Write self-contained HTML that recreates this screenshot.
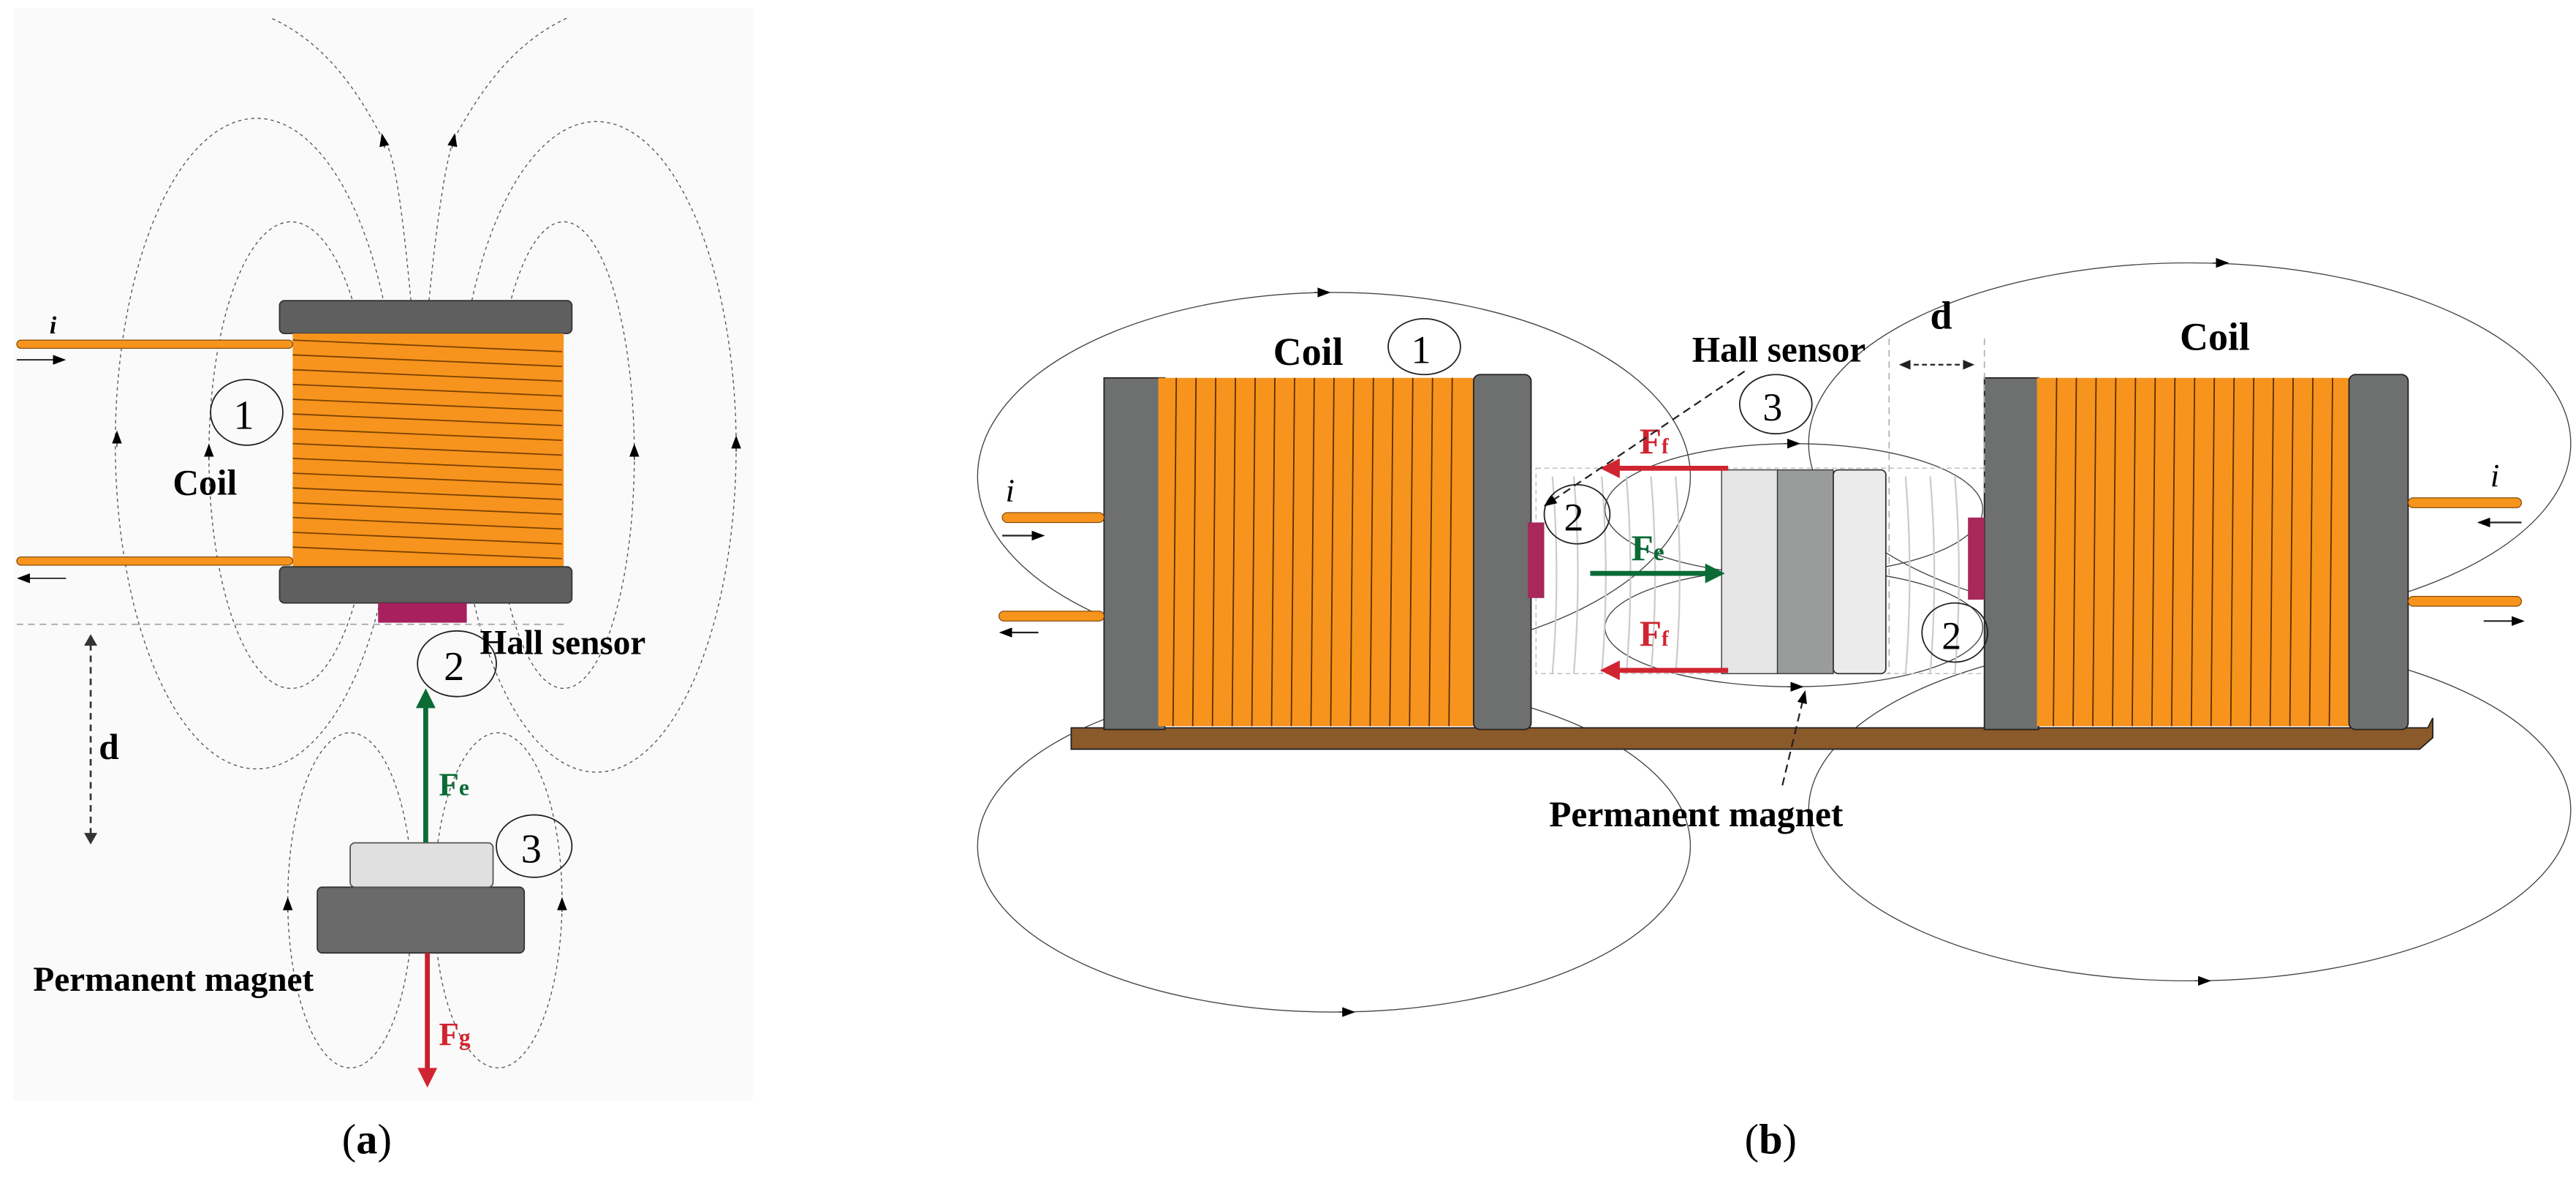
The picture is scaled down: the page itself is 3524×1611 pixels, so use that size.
<!DOCTYPE html>
<html><head><meta charset="utf-8"><style>
html,body{margin:0;padding:0;background:#fff;}
svg{display:block;}
text{font-family:"Liberation Serif",serif;}
</style></head><body>
<svg width="3524" height="1611" viewBox="0 0 1568 717" xmlns="http://www.w3.org/2000/svg">
<defs>
<marker id="ah" markerWidth="8" markerHeight="8" refX="4" refY="4" orient="auto" markerUnits="userSpaceOnUse"><path d="M0,1 L8,4 L0,7 z" fill="#000"/></marker>
<marker id="ag" markerWidth="4" markerHeight="4" refX="2" refY="2" orient="auto"><path d="M0,0 L4,2 L0,4 z" fill="#0a6b35"/></marker>
<marker id="ar" markerWidth="4" markerHeight="4" refX="2" refY="2" orient="auto"><path d="M0,0 L4,2 L0,4 z" fill="#d02530"/></marker>
</defs>
<rect x="0" y="0" width="1568" height="717" fill="#fff"/>
<rect x="8" y="5" width="450" height="665" fill="#fafafa"/>

<!-- ===== Panel (a) field lines ===== -->
<g fill="none" stroke="#555" stroke-width="0.6" stroke-dasharray="2,2">
<ellipse cx="177" cy="277" rx="50" ry="142"/>
<ellipse cx="156" cy="270" rx="86" ry="198"/>
<ellipse cx="343" cy="277" rx="43" ry="142"/>
<ellipse cx="363" cy="272" rx="85" ry="198"/>
<path d="M250,183 C245,130 240,90 233,85 C215,50 195,25 165,11"/>
<path d="M261,183 C266,130 272,95 276,85 C295,50 315,25 345,11"/>
<ellipse cx="213" cy="548" rx="38" ry="102"/>
<ellipse cx="303" cy="548" rx="39" ry="102"/>
</g>
<g stroke="#333" stroke-width="0.6">
<path d="M71,272 l0,-6" marker-end="url(#ah)"/>
<path d="M127,280 l0,-6" marker-end="url(#ah)"/>
<path d="M386,280 l0,-6" marker-end="url(#ah)"/>
<path d="M448,275 l0,-6" marker-end="url(#ah)"/>
<path d="M234,90 l-1,-5" marker-end="url(#ah)"/>
<path d="M275,90 l1,-5" marker-end="url(#ah)"/>
<path d="M175,555 l0,-5" marker-end="url(#ah)"/>
<path d="M342,555 l0,-5" marker-end="url(#ah)"/>
</g>
<!-- coil (a) -->
<rect x="170" y="183" width="178" height="20" rx="3" fill="#5f5f5f" stroke="#333" stroke-width="0.8"/>
<rect x="178" y="203" width="165" height="142" fill="#f7941d"/>
<g stroke="#7a4200" stroke-width="0.8" fill="none">
<path d="M178,207 L342,214 M178,216 L342,223 M178,225 L342,232 M178,234 L342,241 M178,243 L342,250 M178,252 L342,259 M178,261 L342,268 M178,270 L342,277 M178,279 L342,286 M178,288 L342,295 M178,297 L342,304 M178,306 L342,313 M178,315 L342,322 M178,324 L342,331 M178,333 L342,340"/>
</g>
<rect x="170" y="345" width="178" height="22" rx="3" fill="#5f5f5f" stroke="#333" stroke-width="0.8"/>
<rect x="230" y="367" width="54" height="12" fill="#a8205e"/>
<!-- wires -->
<rect x="10" y="207" width="168" height="5" rx="2.5" fill="#f7941d" stroke="#7a4200" stroke-width="0.5"/>
<rect x="10" y="339" width="168" height="5" rx="2.5" fill="#f7941d" stroke="#7a4200" stroke-width="0.5"/>
<text x="30" y="203" font-size="15" font-style="italic" font-weight="bold">i</text>
<line x1="10" y1="219" x2="36" y2="219" stroke="#222" stroke-width="0.8" marker-end="url(#ah)"/>
<line x1="40" y1="352" x2="14" y2="352" stroke="#222" stroke-width="0.8" marker-end="url(#ah)"/>
<ellipse cx="150" cy="251" rx="22" ry="20" fill="none" stroke="#222" stroke-width="0.8"/>
<text x="142" y="261" font-size="25">1</text>
<text x="105" y="301" font-size="22" font-weight="bold">Coil</text>
<line x1="10" y1="380" x2="346" y2="380" stroke="#aaa" stroke-width="0.8" stroke-dasharray="4,3"/>
<line x1="55" y1="392" x2="55" y2="508" stroke="#333" stroke-width="1.2" stroke-dasharray="4,3"/>
<path d="M51,393 L55,386 L59,393 z M51,507 L55,514 L59,507 z" fill="#333"/>
<text x="60" y="462" font-size="22" font-weight="bold">d</text>
<ellipse cx="278" cy="404" rx="24" ry="20" fill="none" stroke="#222" stroke-width="0.8"/>
<text x="270" y="414" font-size="25">2</text>
<text x="292" y="398" font-size="21" font-weight="bold">Hall sensor</text>
<line x1="259" y1="513" x2="259" y2="425" stroke="#0a6b35" stroke-width="3" marker-end="url(#ag)"/>
<text x="267" y="484" font-size="20" font-weight="bold" fill="#0a6b35">F<tspan font-size="14">e</tspan></text>
<ellipse cx="325" cy="515" rx="23" ry="19" fill="none" stroke="#222" stroke-width="0.8"/>
<text x="317" y="525" font-size="25">3</text>
<rect x="193" y="540" width="126" height="40" rx="3" fill="#6a6a6a" stroke="#333" stroke-width="0.8"/>
<rect x="213" y="513" width="87" height="27" rx="3" fill="#e0e0e0" stroke="#555" stroke-width="0.8"/>
<text x="20" y="603" font-size="21" font-weight="bold">Permanent magnet</text>
<line x1="260" y1="580" x2="260" y2="656" stroke="#c8202c" stroke-width="3" marker-end="url(#ar)"/>
<text x="267" y="636" font-size="20" font-weight="bold" fill="#d02530">F<tspan font-size="14">g</tspan></text>
<text x="208" y="702" font-size="26">(<tspan font-weight="bold">a</tspan>)</text>

<!-- ===== Panel (b) ===== -->
<g fill="none" stroke="#444" stroke-width="0.6">
<ellipse cx="812" cy="290" rx="217" ry="112"/>
<ellipse cx="812" cy="515" rx="217" ry="101"/>
<ellipse cx="1333" cy="270" rx="232" ry="110"/>
<ellipse cx="1333" cy="493" rx="232" ry="104"/>
<ellipse cx="1092" cy="310" rx="115" ry="40"/>
<ellipse cx="1092" cy="382" rx="115" ry="36"/>
</g>
<g stroke="#333" stroke-width="0.6">
<path d="M800,178 l6,0" marker-end="url(#ah)"/>
<path d="M815,616 l6,0" marker-end="url(#ah)"/>
<path d="M1347,160 l6,0" marker-end="url(#ah)"/>
<path d="M1336,597 l6,0" marker-end="url(#ah)"/>
<path d="M1086,270 l6,0" marker-end="url(#ah)"/>
<path d="M1088,418 l6,0" marker-end="url(#ah)"/>
</g>
<g fill="none" stroke="#ccc" stroke-width="1">
<path d="M945,290 Q950,350 945,410 M958,290 Q963,350 958,410 M975,290 Q980,350 975,410 M990,290 Q995,350 990,410 M1005,290 Q1010,350 1005,410 M1020,290 Q1025,350 1020,410"/>
<path d="M1160,290 Q1165,350 1160,410 M1175,290 Q1180,350 1175,410 M1190,290 Q1195,350 1190,410"/>
</g>
<rect x="935" y="285" width="273" height="125" fill="none" stroke="#bbb" stroke-width="0.6" stroke-dasharray="3,2"/>
<path d="M652,443 L1478,443 L1481,437 L1481,449 L1473,456 L652,456 z" fill="#8b5a2b" stroke="#222" stroke-width="0.8"/>
<rect x="672" y="230" width="37" height="214" fill="#6e706f" stroke="#222" stroke-width="0.8"/>
<rect x="705" y="230" width="194" height="212" fill="#f7941d"/>
<g stroke="#5a3000" stroke-width="0.8" fill="none">
<path d="M716,230 L714,442 M728,230 L726,442 M740,230 L738,442 M752,230 L750,442 M764,230 L762,442 M776,230 L774,442 M788,230 L786,442 M800,230 L798,442 M812,230 L810,442 M824,230 L822,442 M836,230 L834,442 M848,230 L846,442 M860,230 L858,442 M872,230 L870,442 M884,230 L882,442"/>
</g>
<rect x="897" y="228" width="35" height="216" rx="4" fill="#6e706f" stroke="#222" stroke-width="0.8"/>
<rect x="1208" y="230" width="33" height="214" fill="#6e706f" stroke="#222" stroke-width="0.8"/>
<rect x="1240" y="230" width="192" height="212" fill="#f7941d"/>
<g stroke="#5a3000" stroke-width="0.8" fill="none">
<path d="M1252,230 L1250,442 M1264,230 L1262,442 M1276,230 L1274,442 M1288,230 L1286,442 M1300,230 L1298,442 M1312,230 L1310,442 M1324,230 L1322,442 M1336,230 L1334,442 M1348,230 L1346,442 M1360,230 L1358,442 M1372,230 L1370,442 M1384,230 L1382,442 M1396,230 L1394,442 M1408,230 L1406,442 M1420,230 L1418,442"/>
</g>
<rect x="1430" y="228" width="36" height="216" rx="4" fill="#6e706f" stroke="#222" stroke-width="0.8"/>
<rect x="930" y="318" width="10" height="46" fill="#a8285a"/>
<rect x="1198" y="315" width="10" height="50" fill="#a8285a"/>
<rect x="1048" y="286" width="34" height="124" fill="#e6e6e6" stroke="#333" stroke-width="0.6"/>
<rect x="1082" y="286" width="34" height="124" fill="#9a9b9b" stroke="#333" stroke-width="0.6"/>
<rect x="1116" y="286" width="32" height="124" rx="3" fill="#ebebeb" stroke="#333" stroke-width="0.8"/>
<rect x="610" y="312" width="62" height="6" rx="3" fill="#f7941d" stroke="#7a4200" stroke-width="0.5"/>
<rect x="608" y="372" width="64" height="6" rx="3" fill="#f7941d" stroke="#7a4200" stroke-width="0.5"/>
<rect x="1466" y="303" width="69" height="6" rx="3" fill="#f7941d" stroke="#7a4200" stroke-width="0.5"/>
<rect x="1466" y="363" width="69" height="6" rx="3" fill="#f7941d" stroke="#7a4200" stroke-width="0.5"/>
<text x="612" y="305" font-size="20" font-style="italic">i</text>
<text x="1516" y="296" font-size="20" font-style="italic">i</text>
<line x1="610" y1="326" x2="632" y2="326" stroke="#222" stroke-width="1" marker-end="url(#ah)"/>
<line x1="632" y1="385" x2="612" y2="385" stroke="#222" stroke-width="1" marker-end="url(#ah)"/>
<line x1="1535" y1="318" x2="1512" y2="318" stroke="#222" stroke-width="1" marker-end="url(#ah)"/>
<line x1="1512" y1="378" x2="1533" y2="378" stroke="#222" stroke-width="1" marker-end="url(#ah)"/>
<line x1="1052" y1="285" x2="980" y2="285" stroke="#d02530" stroke-width="3" marker-end="url(#ar)"/>
<line x1="1052" y1="408" x2="980" y2="408" stroke="#d02530" stroke-width="3" marker-end="url(#ar)"/>
<line x1="968" y1="349" x2="1044" y2="349" stroke="#0a6b35" stroke-width="3" marker-end="url(#ag)"/>
<text x="998" y="276" font-size="22" fill="#d02530" font-weight="bold">F<tspan font-size="13">f</tspan></text>
<text x="998" y="393" font-size="22" fill="#d02530" font-weight="bold">F<tspan font-size="13">f</tspan></text>
<text x="993" y="341" font-size="22" fill="#0a6b35" font-weight="bold">F<tspan font-size="15">e</tspan></text>
<ellipse cx="867" cy="211" rx="22" ry="17" fill="none" stroke="#222" stroke-width="0.8"/>
<text x="859" y="221" font-size="24">1</text>
<ellipse cx="1081" cy="246" rx="22" ry="18" fill="none" stroke="#222" stroke-width="0.8"/>
<text x="1073" y="256" font-size="24">3</text>
<ellipse cx="960" cy="313" rx="20" ry="18" fill="none" stroke="#222" stroke-width="0.8"/>
<text x="952" y="323" font-size="24">2</text>
<ellipse cx="1190" cy="385" rx="20" ry="18" fill="none" stroke="#222" stroke-width="0.8"/>
<text x="1182" y="395" font-size="24">2</text>
<text x="775" y="222" font-size="24" font-weight="bold">Coil</text>
<text x="1327" y="213" font-size="24" font-weight="bold">Coil</text>
<text x="1030" y="220" font-size="22" font-weight="bold">Hall sensor</text>
<text x="943" y="503" font-size="22" font-weight="bold">Permanent magnet</text>
<text x="1175" y="200" font-size="24" font-weight="bold">d</text>
<line x1="1150" y1="206" x2="1150" y2="410" stroke="#aaa" stroke-width="0.7" stroke-dasharray="4,3"/>
<line x1="1208" y1="206" x2="1208" y2="300" stroke="#aaa" stroke-width="0.7" stroke-dasharray="4,3"/>
<line x1="1160" y1="222" x2="1198" y2="222" stroke="#222" stroke-width="1" stroke-dasharray="3,2"/>
<path d="M1156,222 L1163,219 L1163,225 z M1202,222 L1195,219 L1195,225 z" fill="#222"/>
<line x1="1062" y1="226" x2="943" y2="306" stroke="#222" stroke-width="1" stroke-dasharray="5,3" marker-end="url(#ah)"/>
<line x1="1085" y1="478" x2="1098" y2="424" stroke="#222" stroke-width="1" stroke-dasharray="5,3" marker-end="url(#ah)"/>
<text x="1062" y="702" font-size="26">(<tspan font-weight="bold">b</tspan>)</text>
</svg>
</body></html>
